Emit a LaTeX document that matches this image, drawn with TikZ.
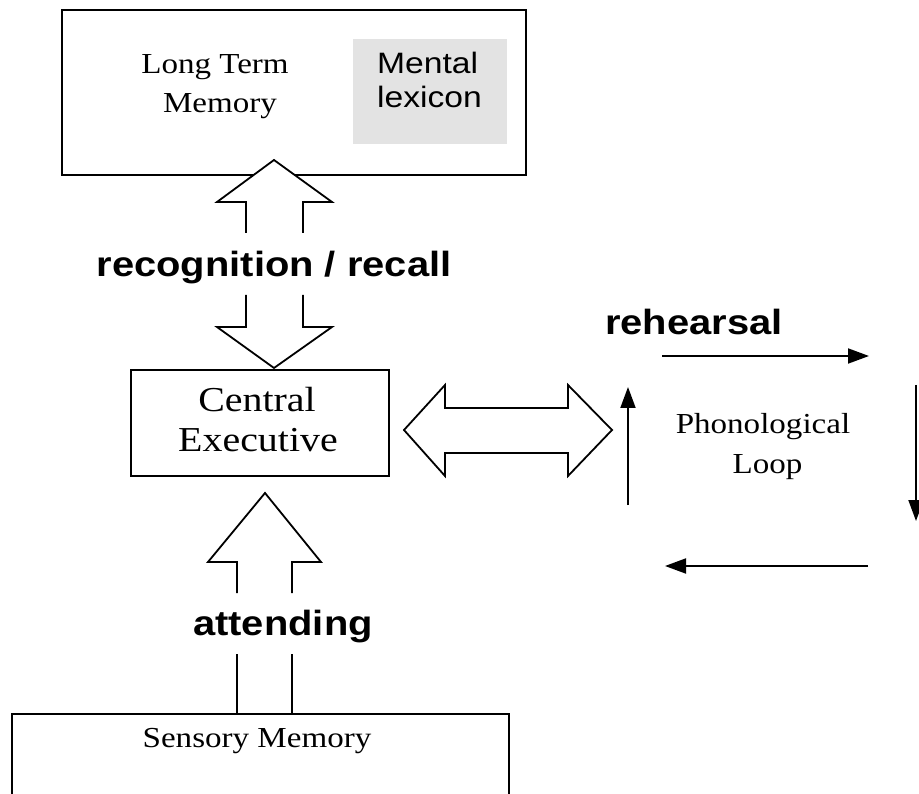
\documentclass[tikz,border=0pt]{standalone}
\usepackage{fontspec}
\setmainfont{Liberation Serif}[FakeStretch=1.14]
\newfontfamily\diagsans{Liberation Sans}[FakeStretch=1.14]
\usetikzlibrary{arrows.meta}
\definecolor{lexgray}{RGB}{227,227,227}
\tikzset{
  box/.style={draw=black, line width=2.5pt, fill=white, inner sep=0pt},
  blockarrow/.style={draw=black, line width=1.8pt, fill=white, line join=miter},
  shaftline/.style={draw=black, line width=1.8pt},
  thinarrow/.style={draw=black, line width=1.9pt, -{Triangle[length=21pt,width=15pt]}},
  serifsmall/.style={inner sep=0pt, anchor=base, font=\fontsize{29}{39}\selectfont},
  serifbig/.style={inner sep=0pt, anchor=base, font=\fontsize{35}{39}\selectfont},
  boldlabel/.style={inner sep=0pt, font=\diagsans\bfseries\fontsize{35}{40}\selectfont},
  lexlabel/.style={inner sep=0pt, anchor=base west, font=\diagsans\fontsize{29.5}{34}\selectfont},
}
\begin{document}
\begin{tikzpicture}[x=1pt, y=-1pt]
\useasboundingbox (0,0) rectangle (919,794);
\clip (0,0) rectangle (919,794);

% boxes
\node[box, minimum width=464pt, minimum height=165pt] (ltm) at (294,92.5) {};
\node[fill=lexgray, inner sep=0pt, minimum width=154pt, minimum height=105pt] (lexbg) at (430,91.5) {};
\node[box, minimum width=258pt, minimum height=106pt] (ce) at (260,423) {};
\node[box, minimum width=497pt, minimum height=120pt] (sm) at (260.5,774) {};

% texts
\node[serifsmall] (ltm1) at (215,74) {Long Term};
\node[serifsmall] (ltm2) at (220,113) {Memory};
\node[lexlabel] (lex1) at (377,74) {Mental};
\node[lexlabel] (lex2) at (377,108) {lexicon};
\node[serifbig] (ce1) at (257,412) {Central};
\node[serifbig] (ce2) at (258,451) {Executive};
\node[serifsmall] (pl1) at (763,433) {Phonological};
\node[serifsmall] (pl2) at (767.5,473) {Loop};
\node[serifsmall] (sm1) at (257,747) {Sensory Memory};
\node[boldlabel, anchor=base] (rr) at (274,277) {recognition / recall};
\node[boldlabel, anchor=base west] (reh) at (605,335) {rehearsal};
\node[boldlabel, anchor=base] (att) at (283,635) {attending};

% recognition / recall double block arrow (split by its label)
\draw[blockarrow] (246,233) -- (246,202) -- (217,202) -- (274,160) -- (332,202) -- (303,202) -- (303,233);
\draw[blockarrow] (246,295) -- (246,327) -- (217,327) -- (274,368) -- (332,327) -- (303,327) -- (303,295);

% attending block arrow
\draw[blockarrow] (237,593) -- (237,562) -- (208,562) -- (265,493) -- (321,562) -- (292,562) -- (292,593);
\draw[shaftline] (237,654) -- (237,714);
\draw[shaftline] (292,654) -- (292,714);

% horizontal double block arrow
\draw[blockarrow] (404,430) -- (445,385) -- (445,408) -- (568,408) -- (568,385) -- (612,430)
  -- (568,476) -- (568,453) -- (445,453) -- (445,476) -- cycle;

% phonological loop arrows
\coordinate (tA) at (662,356);
\coordinate (tB) at (869,356);
\coordinate (rA) at (916,385);
\coordinate (rB) at (916,521);
\coordinate (bA) at (868,566);
\coordinate (bB) at (665,566);
\coordinate (lA) at (628,505);
\coordinate (lB) at (628,387);
\draw[thinarrow] (tA) -- (tB);
\draw[thinarrow] (rA) -- (rB);
\draw[thinarrow] (bA) -- (bB);
\draw[thinarrow] (lA) -- (lB);
\end{tikzpicture}
\end{document}
